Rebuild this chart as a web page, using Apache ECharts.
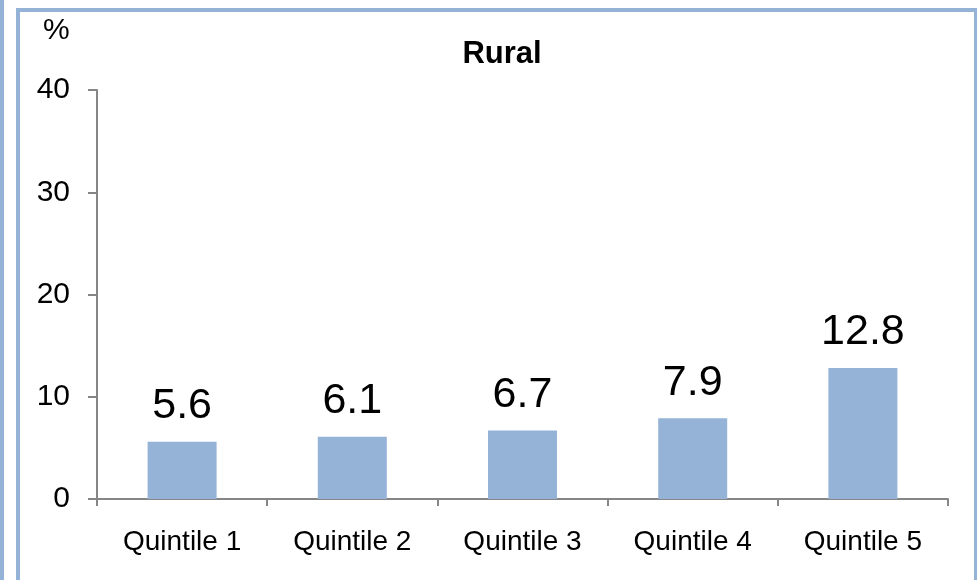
<!DOCTYPE html>
<html>
<head>
<meta charset="utf-8">
<script src="https://cdn.jsdelivr.net/npm/echarts@6/dist/echarts.min.js"></script>
<style>
  html, body { margin: 0; padding: 0; background: #fff; }
  #main { width: 977px; height: 580px; }
</style>
</head>
<body>
<div id="main"></div>
<script>
const categories = ['Quintile 1', 'Quintile 2', 'Quintile 3', 'Quintile 4', 'Quintile 5']
const ruralValues = [5.6, 6.1, 6.7, 7.9, 12.8]
const yTicks = [0, 10, 20, 30, 40]

const barColor = '#95B3D7'
const axisColor = '#868686'
const font = '"Liberation Sans", Arial, sans-serif'

const chart = echarts.init(document.getElementById('main'), null, { renderer: 'canvas' })

const option = {
    backgroundColor: '#fff',
    animation: false,
    title: {
        text: 'Rural',
        left: 497,
        top: 34,
        textAlign: 'center',
        textStyle: { fontFamily: font, fontSize: 31, fontWeight: 'bold', color: '#000' }
    },
    graphic: [
        // outer stripe and frame
        { type: 'rect', shape: { x: 0, y: 0, width: 4, height: 580 }, style: { fill: barColor } },
        { type: 'rect', shape: { x: 18, y: 10, width: 958, height: 620 },
          style: { fill: null, stroke: barColor, lineWidth: 4 } },
        { type: 'text', left: 43, top: 16,
          style: { text: '%', fontSize: 30, fontFamily: font, fill: '#000' } }
    ],
    grid: { left: 97, right: 29, top: 90, bottom: 81 },
    xAxis: {
        type: 'category',
        data: categories,
        axisLine: { lineStyle: { color: axisColor, width: 2 } },
        axisTick: { show: true, length: 7, lineStyle: { color: axisColor, width: 2 } },
        axisLabel: { color: '#000', fontSize: 28, fontFamily: font, margin: 29 }
    },
    yAxis: {
        type: 'value',
        min: yTicks[0],
        max: yTicks[yTicks.length - 1],
        interval: 10,
        axisLine: { show: true, lineStyle: { color: axisColor, width: 2 } },
        axisTick: { show: true, length: 9, lineStyle: { color: axisColor, width: 2 } },
        splitLine: { show: false },
        axisLabel: { color: '#000', fontSize: 30, fontFamily: font, margin: 27 }
    },
    series: [
        {
            name: 'Rural',
            type: 'bar',
            data: ruralValues,
            barWidth: 69,
            itemStyle: { color: barColor },
            label: {
                show: true,
                position: 'top',
                distance: 14,
                color: '#000',
                fontSize: 43,
                fontFamily: font
            }
        }
    ]
}

chart.setOption(option)
</script>
</body>
</html>
